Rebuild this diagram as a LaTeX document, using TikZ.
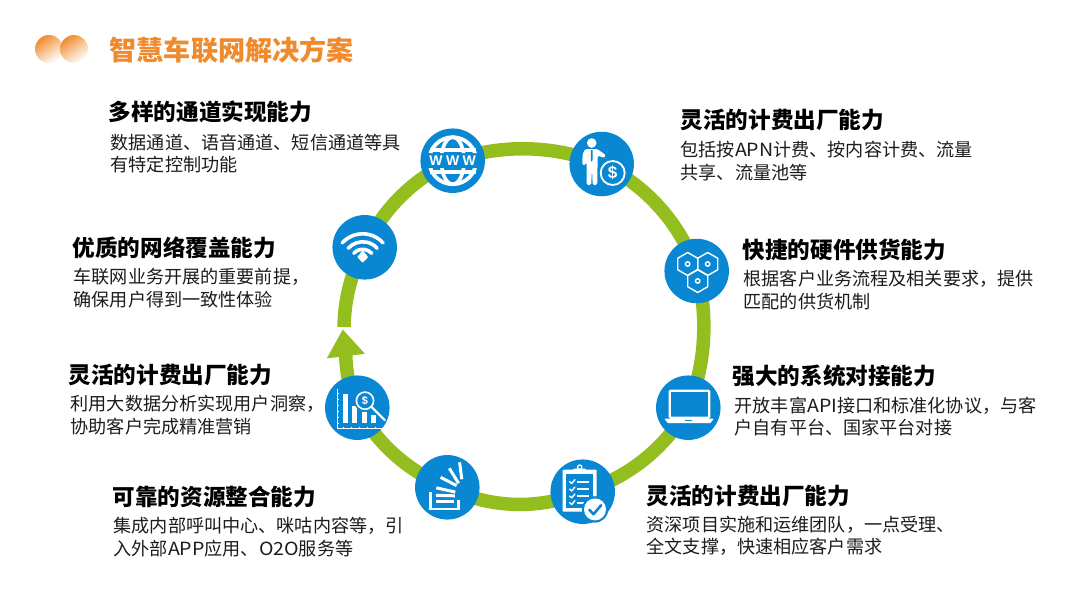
\documentclass[tikz,border=0pt]{standalone}
\usepackage{fontspec}
\setmainfont{Noto Sans CJK SC}
\newfontfamily\iconfont{Liberation Sans}
\newcommand{\latw}[1]{{\addfontfeature{FakeStretch=1.08}#1}}
\usetikzlibrary{arrows.meta,backgrounds,calc,shapes.geometric,shadings}
\definecolor{ringgreen}{HTML}{93BE1E}
\definecolor{iconblue}{HTML}{0A87D2}
\definecolor{titleorange}{HTML}{EF8B2D}
\definecolor{bodyink}{HTML}{1C1C1C}
\tikzset{
  iconball/.style={circle,fill=iconblue,minimum size=64.5pt,inner sep=0pt},
  ringarc/.style={draw=ringgreen,line width=13.5pt,line cap=butt,looseness=0.885},
  headtext/.style={anchor=west,inner sep=0pt,font=\fontsize{22.6}{26}\selectfont\bfseries,text=black},
  bodytext/.style={anchor=west,inner sep=0pt,align=left,font=\fontsize{18.12}{22.3}\selectfont,text=bodyink},
  titletext/.style={anchor=west,inner sep=0pt,font=\fontsize{27.1}{30}\selectfont\bfseries,text=titleorange},
  logoball/.style={circle,minimum size=28pt,inner sep=0pt,shading=axis,top color=titleorange,middle color=titleorange,bottom color=white,shading angle=35},
  inkw/.style={draw=white,line width=#1,line cap=round,line join=round},
  inkw/.default=2pt,
  icontext/.style={inner sep=0pt,text=white,font=\iconfont\bfseries\fontsize{#1}{#1}\selectfont},
}
\begin{document}
\begin{tikzpicture}[x=1pt,y=-1pt]
\useasboundingbox (0,0) rectangle (1080,608);
% title
\node[logoball] (logoa) at (49,49) {};
\node[logoball] (logob) at (74,49) {};
\node[titletext] (title) at (109.5,50) {智慧车联网解决方案};
% icon discs
\node[iconball] (www) at (452.7,160.7) {};
\node[iconball] (person) at (601.7,164) {};
\node[iconball] (hex) at (696.7,271) {};
\node[iconball] (laptop) at (688.3,407.7) {};
\node[iconball] (clip) at (582.7,491.7) {};
\node[iconball] (stack) at (447.3,487.3) {};
\node[iconball] (chart) at (357.3,407.7) {};
\node[iconball] (wifi) at (364.7,247.3) {};
\coordinate (ringend) at (344,327);
\coordinate (arrowtip) at (342.7,329.3);
\coordinate (ca) at (345.5,382.5);
\coordinate (cb) at (346,357);
% ring
\begin{scope}[on background layer]
\fill[white] (0,0) rectangle (1080,608);
\draw[ringarc] (wifi.center) to[bend left=20] (www.center);
\draw[ringarc] (www.center) to[bend left=20.5] (person.center);
\draw[ringarc] (person.center) to[bend left=23] (hex.center);
\draw[ringarc] (hex.center) to[bend left=18] (laptop.center);
\draw[ringarc] (laptop.center) to[bend left=22] (clip.center);
\draw[ringarc] (clip.center) to[bend left=25] (stack.center);
\draw[ringarc] (stack.center) to[bend left=19.5] (chart.center);
\draw[ringarc] (ringend) to[bend left=13.5] (wifi.center);
\draw[draw=ringgreen,line width=13.5pt,-{Triangle[length=27pt,width=36.5pt]}] (chart.center) .. controls (ca) and (cb) .. (arrowtip);
\end{scope}
% www icon
\begin{scope}[shift={(www.center)}]
\begin{scope}
\clip (-27,-27) rectangle (27,-7.5) (-27,7.5) rectangle (27,27);
\draw[inkw=3.8pt] (0,0) circle[radius=23.5];
\draw[inkw=3.6pt] (0,0) ellipse[x radius=11.5,y radius=23.5];
\draw[inkw=3.6pt,line cap=butt] (-23,-11) -- (23,-11);
\draw[inkw=3.6pt,line cap=butt] (-23,11) -- (23,11);
\end{scope}
\node[icontext=14] (wwwtext) at (0,0) {W\hspace{3.4pt}W\hspace{3.4pt}W};
\end{scope}
% person icon
\begin{scope}[shift={(person.center)}]
\fill[white] (-10,-21) circle[radius=4.8];
\fill[white,rounded corners=1.5pt] (-16.5,-15) -- (-4.5,-15) -- (4,-9) -- (3,-6) -- (-4,-8.5) -- (-4.5,21) -- (-9,21) -- (-9.7,4) -- (-10.5,21) -- (-15,21) -- (-15,-2) -- (-16,1) -- (-19.5,1) -- (-19,-10) -- cycle;
\fill[iconblue] (-10.7,-14) -- (-9.2,-14) -- (-9.2,-4) -- (-10,-2) -- (-10.8,-4) -- cycle;
\fill[iconblue] (11,9) circle[radius=14.5];
\draw[white,line width=1.8pt] (11,9) circle[radius=12];
\node[icontext=17] (dollara) at (11,9) {\$};
\end{scope}
% hexagons icon
\begin{scope}[shift={(hex.center)}]
\foreach \cx/\cy in {-9/-7,11/-7,1/10}{
  \draw[inkw=1.4pt] (\cx+0,\cy-11.5) -- (\cx+10,\cy-5.75) -- (\cx+10,\cy+5.75) -- (\cx+0,\cy+11.5) -- (\cx-10,\cy+5.75) -- (\cx-10,\cy-5.75) -- cycle;
  \draw[white,line width=1.4pt] (\cx,\cy) circle[radius=2.2];
}
\end{scope}
% laptop icon
\begin{scope}[shift={(laptop.center)}]
\draw[white,line width=2.2pt,rounded corners=1pt] (-18.5,-17) rectangle (21,10);
\fill[white,rounded corners=0.8pt] (-24,11) -- (25.5,11) -- (22,15.5) -- (-20.5,15.5) -- cycle;
\fill[iconblue] (-3,11.8) rectangle (4,13);
\end{scope}
% clipboard icon
\begin{scope}[shift={(clip.center)}]
\fill[white,rounded corners=1pt] (-20,-22) rectangle (14,20);
\fill[iconblue] (-16.7,-17.5) rectangle (10.5,16.5);
\fill[white,rounded corners=1.5pt] (-10,-23) rectangle (4,-18);
\draw[white,line width=1.3pt] (-3,-24.5) circle[radius=2.2];
\foreach \yy in {-10,-2.6,4.3,11}{
  \draw[inkw=1.4pt] (-13,\yy) -- (-11,\yy+1.8) -- (-7.8,\yy-2);
  \draw[white,line width=1.8pt] (-5.5,\yy) -- (6.5,\yy);
}
\fill[iconblue] (12.3,17.7) circle[radius=13.2];
\fill[white] (12.3,17.7) circle[radius=11];
\draw[draw=iconblue,line width=2.6pt,line cap=round,line join=round] (6.5,18) -- (10.8,22.5) -- (18.5,13.5);
\end{scope}
% stack icon
\begin{scope}[shift={(stack.center)}]
\draw[white,line width=2.6pt,line join=miter] (-16.7,5) -- (-16.7,21.5) -- (11,21.5) -- (11,13);
\draw[white,line width=3pt] (-11.5,14.5) -- (7,14.5);
\draw[white,line width=3pt] (-11.5,8) -- (7.5,8.5);
\draw[white,line width=3pt] (-11,0.5) -- (8,4.8);
\draw[white,line width=3pt] (-6.7,-10) -- (9.3,-1.7);
\draw[white,line width=3pt] (2,-19) -- (11.3,-4);
\draw[white,line width=3pt] (12.3,-25) -- (14.5,-8);
\end{scope}
% chart icon
\begin{scope}[shift={(chart.center)}]
\draw[white,line width=0.9pt] (-20,-19) -- (-20,20.5) -- (26,20.5);
\foreach \yy in {-14,-8,-2,4,10,16}{\draw[white,line width=0.6pt] (-20,\yy) -- (-18,\yy);}
\foreach \xx in {-14,-6,2,10,18}{\draw[white,line width=0.6pt] (\xx,20.5) -- (\xx,18.8);}
\fill[white] (-14.7,-13.7) rectangle (-9.2,15.7);
\fill[white] (-5,-1.7) rectangle (0,15.7);
\fill[white] (4.3,4) rectangle (9.3,15.7);
\fill[white] (13.7,7.3) rectangle (18.7,15.7);
\fill[iconblue] (7.7,-7) circle[radius=11];
\draw[white,line width=1.6pt] (7.7,-7) circle[radius=8.6];
\draw[white,line width=2.2pt,line cap=round] (14,-1) -- (27.5,12.5);
\node[icontext=11] (dollarb) at (7.7,-7) {\$};
\end{scope}
% wifi icon
\begin{scope}[shift={(wifi.center)},x=1pt,y=1pt]
\foreach \rr in {27.5,19.5,12}{
  \draw[white,line width=3.6pt,line cap=round] ({-2+\rr*cos(138)},{-14+\rr*sin(138)}) arc[start angle=138,end angle=42,radius=\rr];
}
\fill[white,rounded corners=0.8pt] (-2,-15.5) -- ({-2+5.5},{-9.8}) -- (-2,-3) -- (-7.5,-9.8) -- cycle;
\end{scope}
% texts
\node[headtext] (h1) at (108.5,112) {多样的通道实现能力};
\node[bodytext] (b1) at (110.5,153.5) {数据通道、语音通道、短信通道等具\\有特定控制功能};
\node[headtext] (h2) at (680.5,120) {灵活的计费出厂能力};
\node[bodytext] (b2) at (680.5,161) {包括按\latw{APN}计费、按内容计费、流量\\共享、流量池等};
\node[headtext] (h3) at (742.5,250) {快捷的硬件供货能力};
\node[bodytext] (b3) at (743.5,290) {根据客户业务流程及相关要求，提供\\匹配的供货机制};
\node[headtext] (h4) at (732.5,376) {强大的系统对接能力};
\node[bodytext] (b4) at (734.5,416.5) {开放丰富\latw{API}接口和标准化协议，与客\\户自有平台、国家平台对接};
\node[headtext] (h5) at (646.5,496) {灵活的计费出厂能力};
\node[bodytext] (b5) at (646.5,536) {资深项目实施和运维团队，一点受理、\\全文支撑，快速相应客户需求};
\node[headtext] (h6) at (112.5,497) {可靠的资源整合能力};
\node[bodytext] (b6) at (113.5,537) {集成内部呼叫中心、咪咕内容等，引\\入外部\latw{APP}应用、\latw{O2O}服务等};
\node[headtext] (h7) at (68.5,375) {灵活的计费出厂能力};
\node[bodytext] (b7) at (70.5,415) {利用大数据分析实现用户洞察，\\协助客户完成精准营销};
\node[headtext] (h8) at (72.5,248) {优质的网络覆盖能力};
\node[bodytext] (b8) at (73.5,288) {车联网业务开展的重要前提，\\确保用户得到一致性体验};
\end{tikzpicture}
\end{document}
